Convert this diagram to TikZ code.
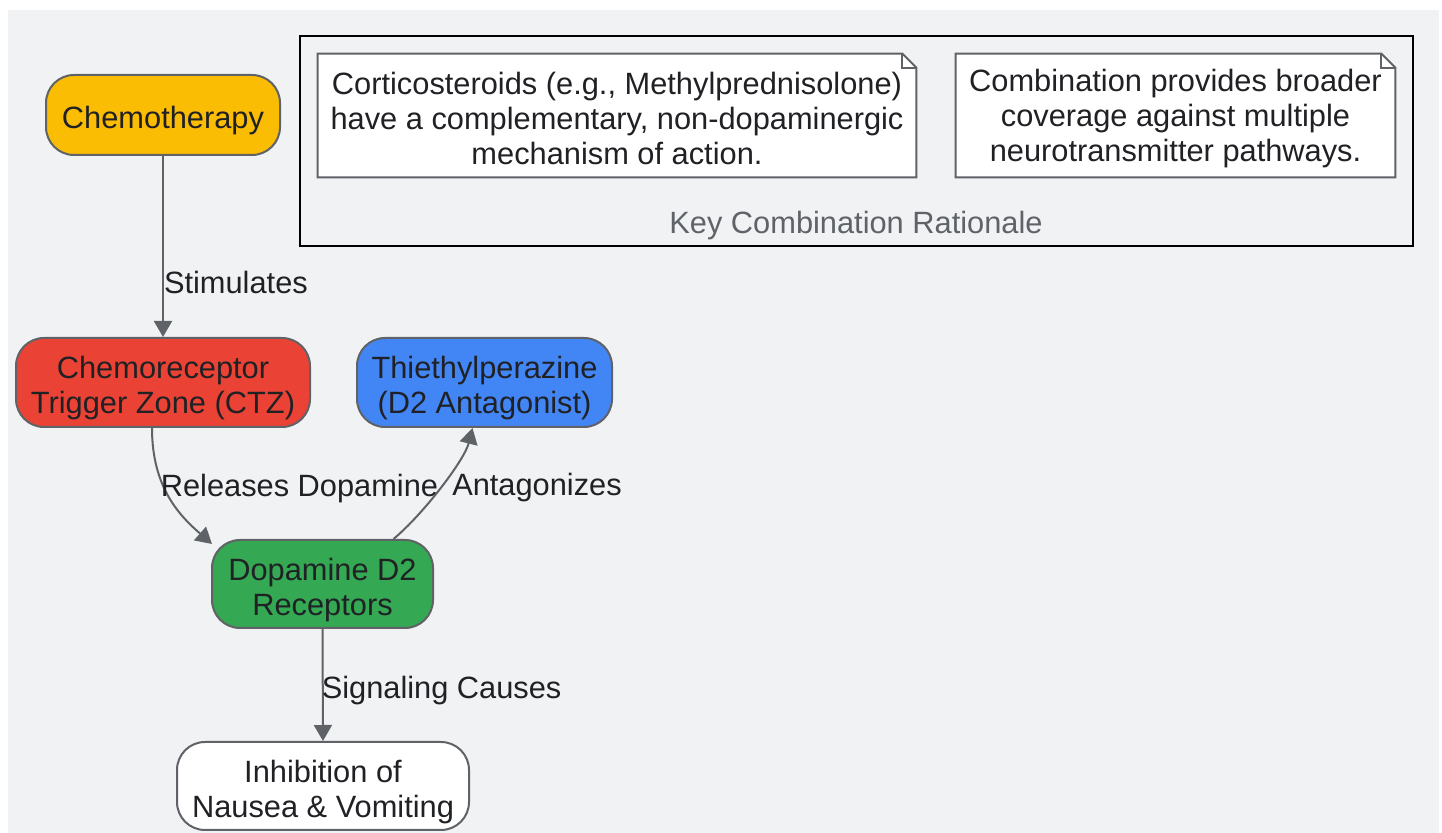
\documentclass[tikz,border=0pt]{standalone}
\usepackage{fontspec}
\setmainfont{Liberation Sans}
\usetikzlibrary{arrows.meta,backgrounds}

\definecolor{bggray}{HTML}{F1F2F4}
\definecolor{linegray}{HTML}{5F6368}
\definecolor{txtdark}{HTML}{202124}
\definecolor{chemofill}{HTML}{FBBC04}
\definecolor{ctzfill}{HTML}{EA4335}
\definecolor{drugfill}{HTML}{4285F4}
\definecolor{recfill}{HTML}{34A853}

% struts that push the first line of a node down a little
\newcommand{\boxstrut}{\rule{0pt}{17pt}}
\newcommand{\notestrut}{\rule{0pt}{14pt}}

\begin{document}
\begin{tikzpicture}[x=0.5pt, y=-0.5pt,
	box/.style={rectangle, rounded corners=14pt, draw=linegray, line width=1pt, text=txtdark, align=center, inner sep=0pt, font=\fontsize{15.4}{17.5}\selectfont},
	flow/.style={draw=linegray, line width=1pt, -{Triangle[length=8pt,width=9pt]}},
	lbl/.style={text=txtdark, inner sep=0pt, font=\fontsize{15.4}{17.5}\selectfont},
	note/.style={text=txtdark, align=center, inner sep=0pt, minimum height=61.5pt, font=\fontsize{15.4}{17.5}\selectfont},
	noteline/.style={draw=linegray, line width=1pt, fill=white}]
	\useasboundingbox (0,0) rectangle (1442,833);
	
	\begin{scope}[on background layer]
		\fill[bggray] (8,10) rectangle (1439,833);
		\draw[black, line width=1.2pt] (300,36) rectangle (1413,246);
	\end{scope}
	
	\node[lbl, text=linegray] (keytitle) at (856,226) {Key Combination Rationale};
	
	\node[note, minimum width=299pt] (rat1) at (617,115.5) {\notestrut Corticosteroids (e.g., Methylprednisolone)\\have a complementary, non-dopaminergic\\mechanism of action.};
	\node[note, minimum width=219.5pt] (rat2) at (1175.5,115.5) {\notestrut Combination provides broader\\coverage against multiple\\neurotransmitter pathways.};
	
	\begin{scope}[on background layer]
		\draw[noteline] (rat1.south west) -- (rat1.north west) -- ([xshift=-7pt]rat1.north east) -- ([yshift=-7pt]rat1.north east) -- (rat1.south east) -- cycle;
		\draw[noteline, fill=none] ([xshift=-7pt]rat1.north east) |- ([yshift=-7pt]rat1.north east);
		\draw[noteline] (rat2.south west) -- (rat2.north west) -- ([xshift=-7pt]rat2.north east) -- ([yshift=-7pt]rat2.north east) -- (rat2.south east) -- cycle;
		\draw[noteline, fill=none] ([xshift=-7pt]rat2.north east) |- ([yshift=-7pt]rat2.north east);
	\end{scope}
	
	\node[box, fill=chemofill, minimum width=117pt, minimum height=40pt] (chemo) at (163,115) {\boxstrut Chemotherapy};
	\node[box, fill=ctzfill, minimum width=147pt, minimum height=44.5pt] (ctz) at (163,382.5) {\boxstrut Chemoreceptor\\Trigger Zone (CTZ)};
	\node[box, fill=drugfill, minimum width=127.5pt, minimum height=44.5pt] (thi) at (484.5,382.5) {\boxstrut Thiethylperazine\\(D2 Antagonist)};
	\node[box, fill=recfill, minimum width=110.5pt, minimum height=44pt] (d2) at (322.5,584) {\boxstrut Dopamine D2\\Receptors};
	\node[box, fill=white, minimum width=146pt, minimum height=44pt] (inh) at (323,786) {\boxstrut Inhibition of\\Nausea \& Vomiting};
	
	\draw[flow] (chemo.south) -- node[lbl, pos=0.7, anchor=west] {Stimulates} (ctz.north);
	\draw[flow] ([xshift=-5.5pt]ctz.south) .. controls +(0,60) and +(-32,-28) .. ([xshift=0.5pt,yshift=-2.5pt]d2.north west)
		node[lbl, pos=0.45, anchor=west, xshift=-3.5pt, yshift=2pt] {Releases Dopamine};
	\draw[flow] ([xshift=35.5pt]d2.north) .. controls +(30,-25) and +(-8,32) .. ([xshift=-6pt]thi.south)
		node[lbl, pos=0.5, anchor=west, xshift=5pt, yshift=-0.5pt] {Antagonizes};
	\draw[flow] (d2.south) -- node[lbl, pos=0.53, anchor=west, xshift=-1pt, yshift=-1pt] {Signaling Causes} (inh.north);
\end{tikzpicture}
\end{document}
